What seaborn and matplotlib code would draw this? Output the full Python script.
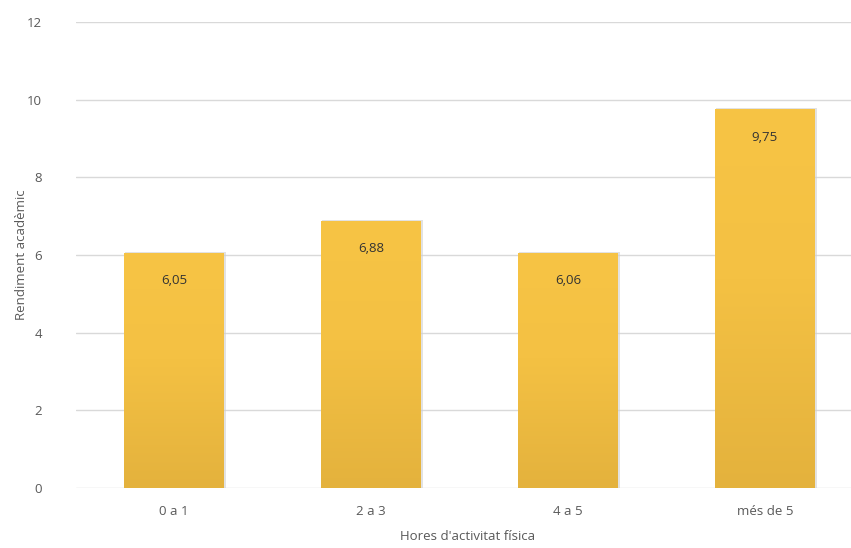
import numpy as np
import pandas as pd
import matplotlib
matplotlib.use("Agg")
import matplotlib.pyplot as plt
import seaborn as sns
from matplotlib.colors import LinearSegmentedColormap

categories = ["0 a 1", "2 a 3", "4 a 5", "més de 5"]
values = [6.05, 6.88, 6.06, 9.75]
value_labels = ["6,05", "6,88", "6,06", "9,75"]
yticks = [0, 2, 4, 6, 8, 10, 12]

df = pd.DataFrame({"cat": categories, "val": values})

sns.set_theme(style="white")
plt.rcParams['font.family'] = ['Open Sans', 'DejaVu Sans']

W, H = 851, 548
fig = plt.figure(figsize=(W / 100, H / 100), dpi=100)
ax = fig.add_axes([75.5 / W, 1 - 488 / H, (851 - 75.5) / W, (488 - 22) / H])

sns.barplot(data=df, x="cat", y="val", color="#F6C344", width=0.503, ax=ax,
            saturation=1, edgecolor="none", zorder=3)

ax.set_ylim(0, 12)
ax.set_xlim(-0.5, -0.5 + (851 - 75.5) / 197)
ax.set_yticks(yticks)
ax.set_yticklabels([str(t) for t in yticks])
ax.yaxis.grid(True, color="#D9D9D9", linewidth=1.0, zorder=0)
ax.set_axisbelow(True)
for s in ax.spines.values():
    s.set_visible(False)
ax.tick_params(axis="both", length=0, labelsize=9.5, colors="#595959")
ax.tick_params(axis="y", pad=24)
ax.tick_params(axis="x", pad=12)

cmap = LinearSegmentedColormap.from_list("g", [(0, "#E4B23D"), (0.55, "#F4C143"), (1, "#F7C445")])
grad = np.linspace(0, 1, 256).reshape(-1, 1)
for p in list(ax.patches):
    x0, y0 = p.get_x(), p.get_y()
    w, h = p.get_width(), p.get_height()
    sh = plt.Rectangle((x0 + 0.004, y0), w + 0.006, h + 0.03, color="#CFCFCF",
                       zorder=2, linewidth=0, alpha=0.6)
    ax.add_patch(sh)
    im = ax.imshow(grad, extent=[x0, x0 + w, y0, y0 + h], origin="lower",
                   cmap=cmap, aspect="auto", zorder=3.5)
    im.set_clip_path(p)

for i, (v, lab) in enumerate(zip(values, value_labels)):
    ax.annotate(lab, (i, v), xytext=(0, -20), textcoords="offset points",
                ha="center", va="center", fontsize=9.5, color="#333333", zorder=5)

ax.set_xlabel("Hores d'activitat física", fontsize=9.5, color="#595959", va="center")
ax.set_ylabel("Rendiment acadèmic", fontsize=9.5, color="#595959", va="center")
ax.xaxis.set_label_coords((468 - 75.5) / (851 - 75.5), -(537 - 488) / (488 - 22))
ax.yaxis.set_label_coords(-(75.5 - 22) / (851 - 75.5), (488 - 255) / (488 - 22))

fig.savefig("out.png", dpi=100)
